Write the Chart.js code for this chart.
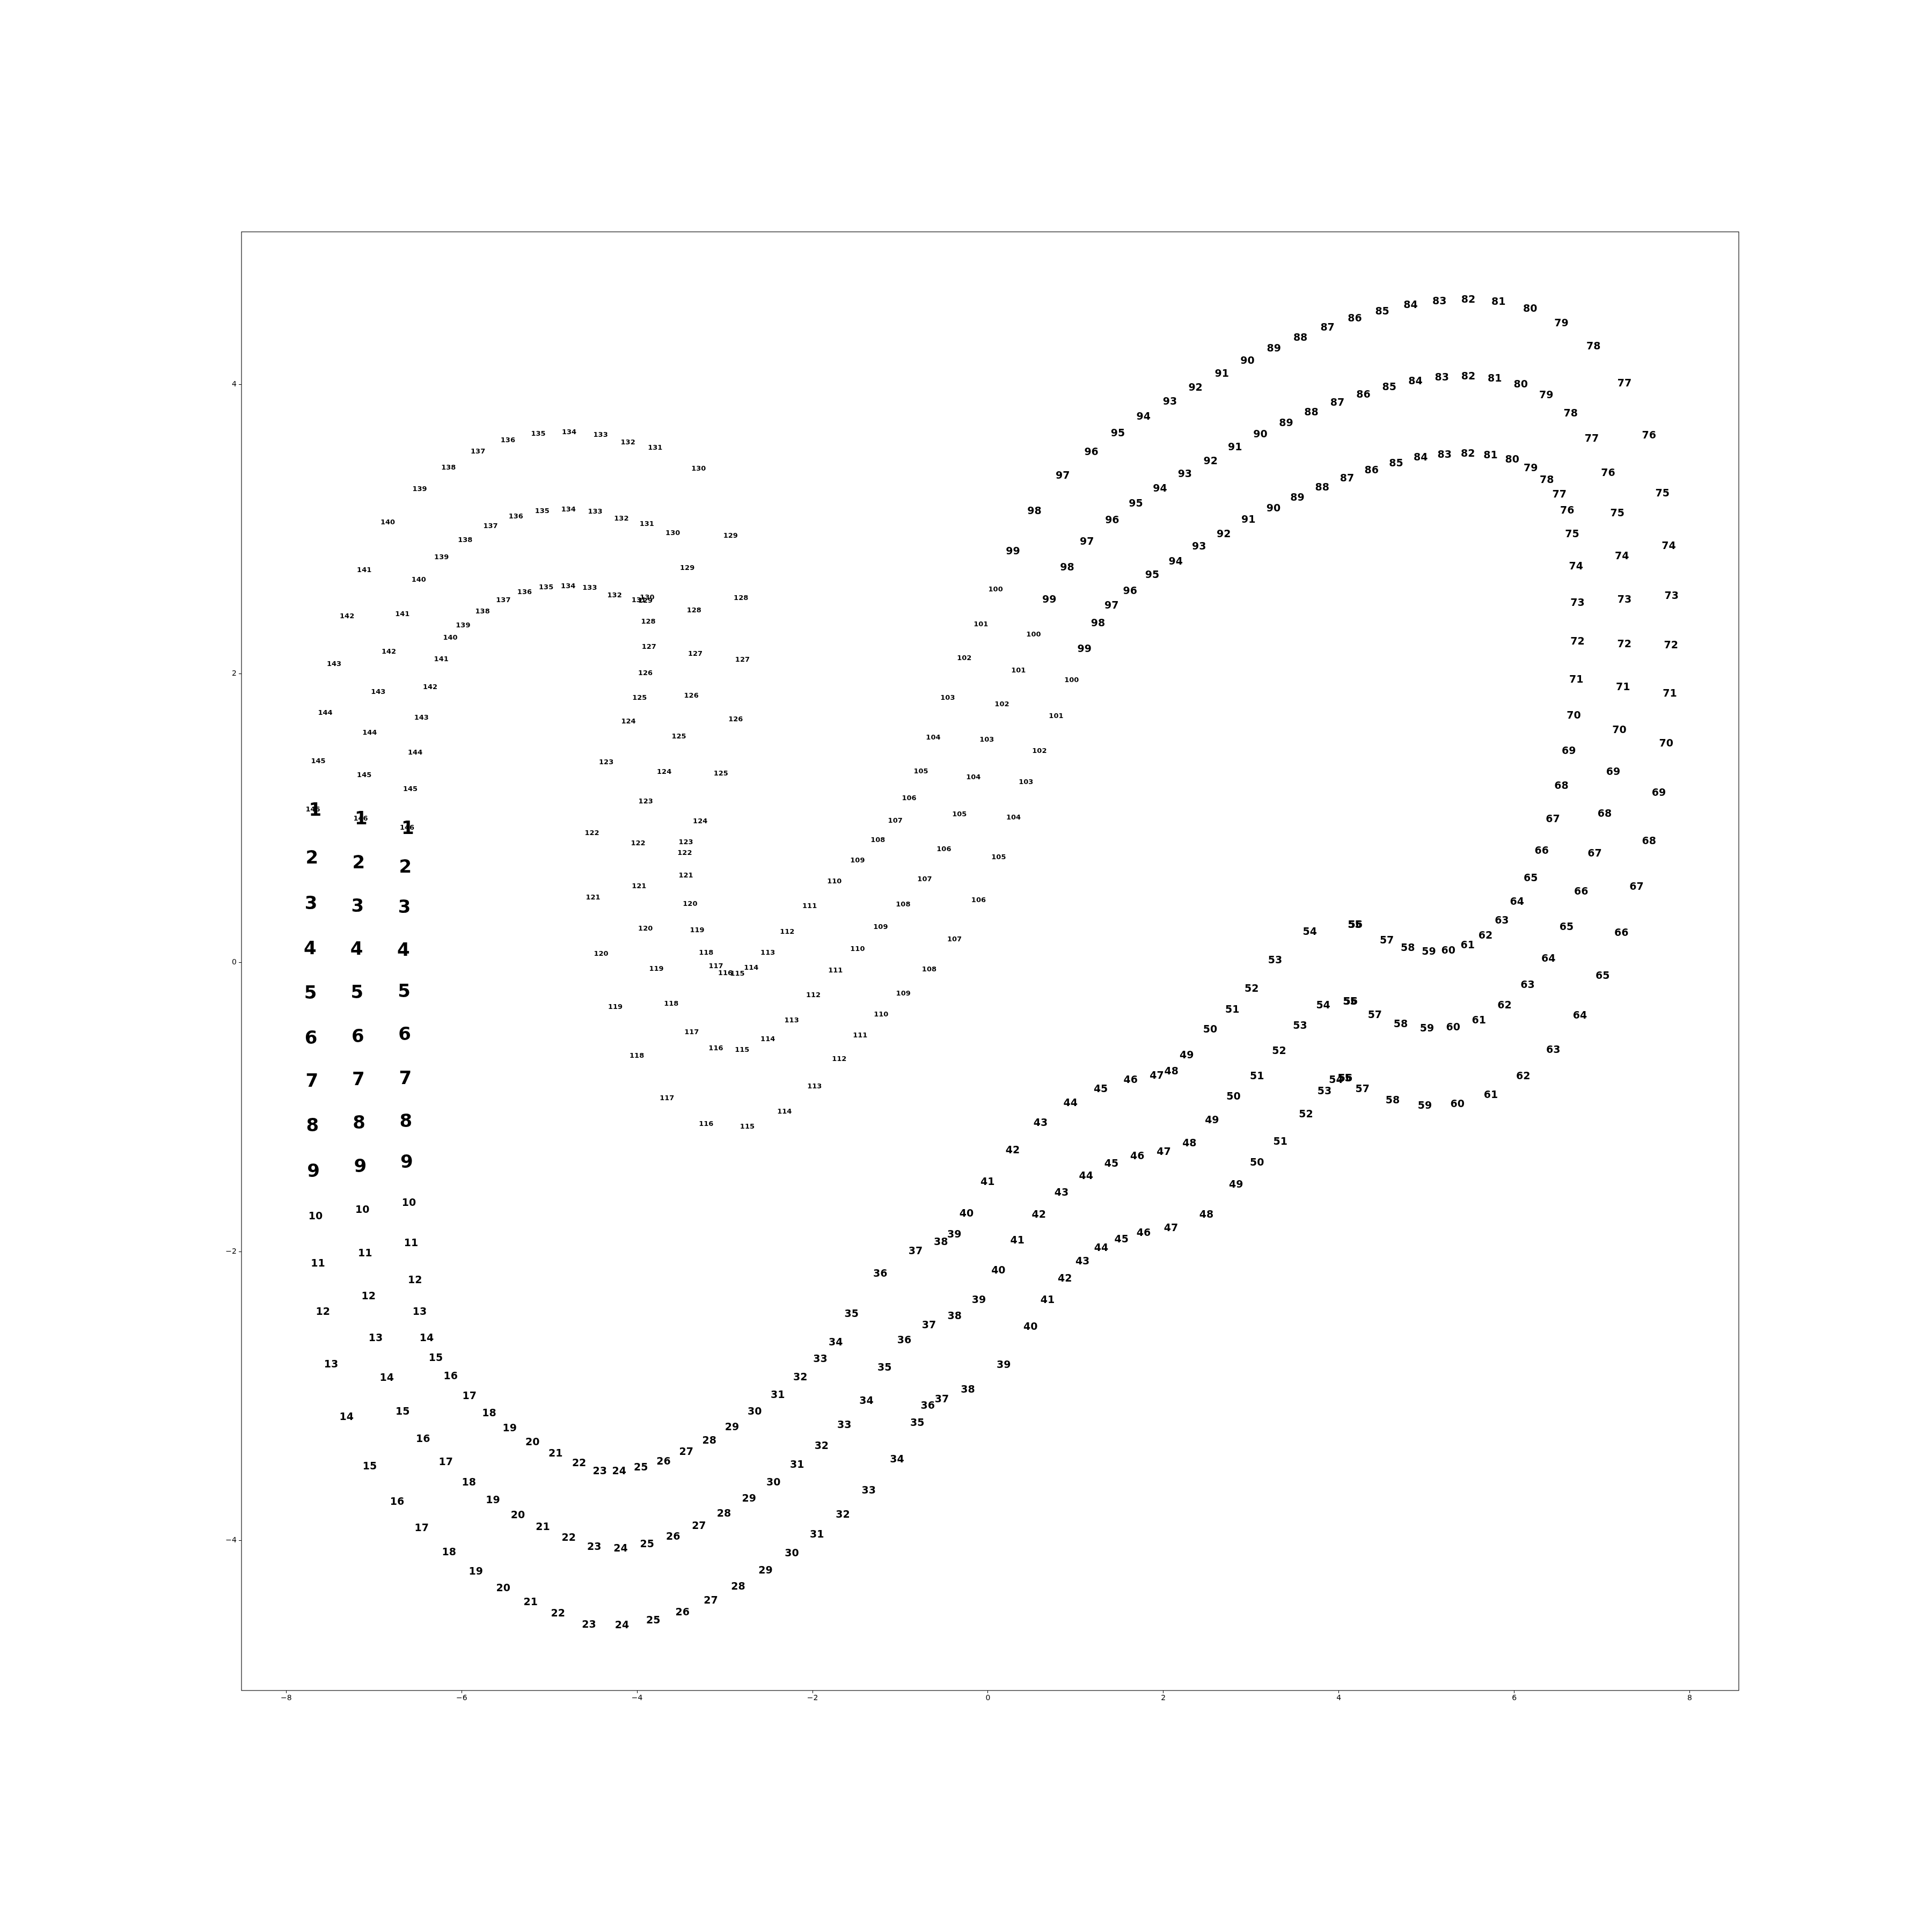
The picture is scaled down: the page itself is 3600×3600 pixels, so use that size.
<!DOCTYPE html>
<html><head><meta charset="utf-8">
<script src="https://cdn.jsdelivr.net/npm/chart.js@4.4.1/dist/chart.umd.min.js"></script>
<style>html,body{margin:0;padding:0;background:#fff}canvas{display:block}</style>
</head><body>
<canvas id="c" width="3600" height="3600"></canvas>
<script>
// point labels (the index of each point along a spiral)
const pointLabels = Array.from({length:146},(_,i)=>String(i+1));

const spiralAX = [-7.670,-7.707,-7.717,-7.728,-7.724,-7.717,-7.707,-7.701,-7.690,-7.666,
-7.638,-7.581,-7.488,-7.312,-7.048,-6.736,-6.456,-6.144,-5.838,-5.526,
-5.214,-4.902,-4.548,-4.172,-3.816,-3.483,-3.160,-2.848,-2.536,-2.236,
-1.950,-1.655,-1.359,-1.036,-0.805,-0.687,-0.526,-0.229,0.180,0.485,
0.680,0.877,1.078,1.291,1.522,1.775,2.087,2.490,2.828,3.067,
3.334,3.625,3.837,3.968,4.066,4.075,4.270,4.614,4.981,5.352,
5.733,6.102,6.444,6.749,7.007,7.221,7.395,7.536,7.648,7.732,
7.774,7.788,7.794,7.762,7.690,7.537,7.257,6.903,6.538,6.181,
5.820,5.476,5.148,4.818,4.495,4.182,3.871,3.562,3.260,2.959,
2.667,2.366,2.074,1.773,1.481,1.179,0.853,0.530,0.285,0.087,
-0.080,-0.270,-0.459,-0.624,-0.764,-0.899,-1.057,-1.255,-1.487,-1.751,
-2.033,-2.289,-2.510,-2.699,-2.857,-2.994,-3.101,-3.213,-3.315,-3.396,
-3.444,-3.457,-3.444,-3.281,-3.045,-2.876,-2.799,-2.816,-2.935,-3.299,
-3.794,-4.104,-4.416,-4.775,-5.126,-5.473,-5.814,-6.150,-6.479,-6.843,
-7.111,-7.307,-7.454,-7.555,-7.635,-7.696];
const spiralAY = [1.063,0.732,0.414,0.104,-0.206,-0.517,-0.815,-1.121,-1.439,-1.752,
-2.077,-2.414,-2.775,-3.142,-3.481,-3.726,-3.910,-4.075,-4.209,-4.324,
-4.423,-4.501,-4.576,-4.583,-4.549,-4.494,-4.410,-4.313,-4.201,-4.084,
-3.952,-3.817,-3.651,-3.434,-3.182,-3.064,-3.016,-2.951,-2.779,-2.516,
-2.329,-2.182,-2.063,-1.972,-1.910,-1.867,-1.833,-1.740,-1.534,-1.381,
-1.236,-1.045,-0.885,-0.809,-0.798,-0.796,-0.872,-0.949,-0.987,-0.976,
-0.912,-0.782,-0.600,-0.362,-0.086,0.208,0.530,0.845,1.178,1.519,
1.868,2.201,2.541,2.887,3.252,3.652,4.014,4.269,4.430,4.529,
4.578,4.591,4.582,4.557,4.512,4.461,4.399,4.329,4.254,4.170,
4.079,3.984,3.887,3.784,3.666,3.539,3.373,3.128,2.849,2.586,
2.343,2.109,1.835,1.560,1.327,1.143,0.987,0.850,0.709,0.565,
0.393,0.215,0.070,-0.031,-0.074,-0.070,-0.023,0.072,0.227,0.408,
0.605,0.761,0.836,0.982,1.314,1.689,2.101,2.526,2.959,3.420,
3.565,3.605,3.656,3.674,3.665,3.618,3.540,3.429,3.279,3.049,
2.718,2.402,2.068,1.732,1.397,1.063];

const spiralBX = [-7.146,-7.174,-7.187,-7.197,-7.193,-7.183,-7.177,-7.170,-7.156,-7.132,
-7.101,-7.061,-6.981,-6.853,-6.673,-6.440,-6.181,-5.917,-5.644,-5.359,
-5.075,-4.779,-4.489,-4.187,-3.886,-3.590,-3.295,-3.010,-2.724,-2.445,
-2.176,-1.897,-1.638,-1.385,-1.179,-0.954,-0.672,-0.381,-0.103,0.119,
0.336,0.580,0.839,1.118,1.407,1.703,2.004,2.297,2.554,2.800,
3.067,3.320,3.558,3.822,4.127,4.135,4.411,4.706,5.005,5.304,
5.597,5.889,6.152,6.389,6.596,6.763,6.917,7.030,7.128,7.198,
7.240,7.255,7.257,7.228,7.176,7.070,6.884,6.643,6.365,6.074,
5.778,5.476,5.175,4.873,4.576,4.280,3.983,3.687,3.399,3.105,
2.817,2.538,2.245,1.962,1.686,1.416,1.128,0.903,0.700,0.520,
0.348,0.159,-0.013,-0.166,-0.325,-0.502,-0.722,-0.967,-1.224,-1.487,
-1.738,-1.991,-2.238,-2.510,-2.803,-3.102,-3.378,-3.611,-3.780,-3.905,
-3.978,-3.988,-3.902,-3.691,-3.523,-3.382,-3.337,-3.351,-3.428,-3.593,
-3.889,-4.179,-4.478,-4.782,-5.082,-5.382,-5.671,-5.960,-6.230,-6.489,
-6.676,-6.830,-6.951,-7.049,-7.111,-7.152];
const spiralBY = [1.002,0.698,0.398,0.100,-0.201,-0.506,-0.804,-1.105,-1.404,-1.705,
-2.008,-2.305,-2.595,-2.869,-3.105,-3.292,-3.453,-3.593,-3.715,-3.819,
-3.903,-3.977,-4.041,-4.050,-4.022,-3.968,-3.896,-3.808,-3.705,-3.593,
-3.472,-3.341,-3.196,-3.028,-2.800,-2.609,-2.504,-2.442,-2.329,-2.126,
-1.920,-1.740,-1.587,-1.471,-1.389,-1.335,-1.304,-1.245,-1.086,-0.922,
-0.782,-0.609,-0.433,-0.293,-0.266,-0.264,-0.357,-0.423,-0.452,-0.443,
-0.396,-0.293,-0.151,0.032,0.252,0.495,0.760,1.033,1.323,1.613,
1.911,2.209,2.518,2.816,3.113,3.392,3.632,3.806,3.930,4.004,
4.046,4.060,4.054,4.027,3.986,3.936,3.879,3.811,3.738,3.660,
3.570,3.474,3.384,3.285,3.180,3.066,2.917,2.738,2.516,2.273,
2.024,1.791,1.546,1.285,1.029,0.788,0.579,0.405,0.249,0.099,
-0.050,-0.221,-0.395,-0.527,-0.599,-0.591,-0.478,-0.282,-0.038,0.237,
0.532,0.831,1.118,1.323,1.570,1.851,2.142,2.443,2.734,2.975,
3.038,3.076,3.126,3.141,3.130,3.093,3.026,2.928,2.808,2.652,
2.414,2.157,1.877,1.595,1.301,1.002];

const spiralCX = [-6.615,-6.642,-6.652,-6.663,-6.656,-6.650,-6.642,-6.636,-6.626,-6.601,
-6.577,-6.532,-6.479,-6.399,-6.295,-6.126,-5.911,-5.686,-5.453,-5.193,
-4.929,-4.661,-4.425,-4.204,-3.957,-3.698,-3.440,-3.176,-2.918,-2.660,
-2.397,-2.139,-1.912,-1.735,-1.555,-1.228,-0.825,-0.537,-0.384,-0.244,
-0.004,0.282,0.600,0.941,1.286,1.627,1.924,2.092,2.266,2.533,
2.786,3.006,3.274,3.670,4.182,4.190,4.547,4.786,5.026,5.249,
5.469,5.672,5.858,6.032,6.187,6.313,6.440,6.538,6.622,6.678,
6.707,6.721,6.722,6.704,6.660,6.604,6.515,6.371,6.188,5.976,
5.730,5.472,5.205,4.933,4.654,4.374,4.094,3.811,3.527,3.256,
2.969,2.688,2.407,2.140,1.873,1.620,1.409,1.255,1.100,0.954,
0.777,0.587,0.434,0.291,0.122,-0.107,-0.382,-0.670,-0.965,-1.218,
-1.457,-1.696,-1.977,-2.320,-2.744,-3.213,-3.660,-4.003,-4.248,-4.411,
-4.502,-4.515,-4.352,-4.099,-3.972,-3.906,-3.865,-3.872,-3.906,-3.885,
-3.981,-4.257,-4.540,-4.786,-5.037,-5.283,-5.525,-5.762,-5.984,-6.130,
-6.233,-6.359,-6.459,-6.530,-6.586,-6.622];
const spiralCY = [0.937,0.667,0.388,0.093,-0.192,-0.490,-0.794,-1.091,-1.374,-1.657,
-1.937,-2.195,-2.414,-2.595,-2.731,-2.857,-2.994,-3.113,-3.219,-3.314,
-3.393,-3.458,-3.515,-3.515,-3.491,-3.448,-3.382,-3.304,-3.210,-3.103,
-2.988,-2.865,-2.740,-2.625,-2.429,-2.149,-1.991,-1.928,-1.877,-1.731,
-1.514,-1.294,-1.106,-0.966,-0.871,-0.808,-0.779,-0.749,-0.636,-0.460,
-0.323,-0.176,0.019,0.217,0.264,0.266,0.159,0.107,0.081,0.087,
0.124,0.190,0.295,0.427,0.589,0.777,0.999,1.229,1.468,1.715,
1.962,2.227,2.493,2.745,2.968,3.133,3.245,3.346,3.426,3.486,
3.515,3.526,3.518,3.499,3.460,3.410,3.356,3.291,3.221,3.146,
3.071,2.968,2.883,2.781,2.687,2.576,2.474,2.354,2.175,1.960,
1.708,1.469,1.252,1.009,0.731,0.435,0.165,-0.042,-0.212,-0.357,
-0.502,-0.664,-0.852,-1.026,-1.132,-1.114,-0.936,-0.642,-0.302,0.065,
0.453,0.901,1.391,1.672,1.834,2.008,2.188,2.365,2.507,2.532,
2.510,2.547,2.597,2.610,2.600,2.569,2.513,2.433,2.337,2.251,
2.105,1.909,1.698,1.456,1.205,0.937];

const xTicks = [-8,-6,-4,-2,0,2,4,6,8];
const yTicks = [-4,-2,0,2,4];

const toPts = (xs, ys) => xs.map((x,i)=>({x:x, y:ys[i]}));

const fmt = v => v < 0 ? '\u2212' + Math.abs(v) : String(v);

const textPlugin = {
  id: 'pointText',
  afterDatasetsDraw(chart){
    const ctx = chart.ctx;
    ctx.save();
    ctx.fillStyle = '#000';
    ctx.textAlign = 'center';
    ctx.textBaseline = 'alphabetic';
    chart.data.datasets.forEach((ds, di) => {
      const meta = chart.getDatasetMeta(di);
      meta.data.forEach((pt, i) => {
        const s = pointLabels[i];
        const size = s.length === 1 ? 34 : (s.length === 2 ? 19 : 13);
        ctx.font = 'bold ' + size + 'px "DejaVu Sans"';
        ctx.fillText(s, pt.x, pt.y + 0.364 * size);
      });
    });
    ctx.restore();
  }
};

const framePlugin = {
  id: 'frame',
  afterDraw(chart){
    const a = chart.chartArea, ctx = chart.ctx;
    ctx.save();
    ctx.strokeStyle = '#000';
    ctx.lineWidth = 1.1;
    ctx.strokeRect(a.left, a.top, a.right - a.left, a.bottom - a.top);
    ctx.restore();
  }
};

new Chart(document.getElementById('c'), {
  type: 'scatter',
  data: {
    datasets: [
      {label:'A', data: toPts(spiralAX, spiralAY)},
      {label:'B', data: toPts(spiralBX, spiralBY)},
      {label:'C', data: toPts(spiralCX, spiralCY)}
    ].map(d => Object.assign(d, {pointRadius:0, pointHoverRadius:0, showLine:false}))
  },
  options: {
    responsive: false,
    devicePixelRatio: 1,
    animation: false,
    events: [],
    layout: {padding: {left:0, top:432, right:360, bottom:0}},
    plugins: {legend:{display:false}, tooltip:{enabled:false}},
    scales: {
      x: {
        type:'linear', position:'bottom', min:-8.51, max:8.56,
        afterBuildTicks: ax => { ax.ticks = xTicks.map(v => ({value:v})); },
        afterFit: s => { s.height = 450; },
        grid: {display:true, drawOnChartArea:false, drawTicks:true, tickLength:5, tickWidth:1, tickColor:'#000'},
        border: {display:false},
        ticks: {callback: v => fmt(v), color:'#000', font:{family:'DejaVu Sans', size:14}, padding:1, maxRotation:0, autoSkip:false}
      },
      y: {
        type:'linear', position:'left', min:-5.038, max:5.057,
        afterBuildTicks: ax => { ax.ticks = yTicks.map(v => ({value:v})); },
        afterFit: s => { s.width = 450; },
        grid: {display:true, drawOnChartArea:false, drawTicks:true, tickLength:5, tickWidth:1, tickColor:'#000'},
        border: {display:false},
        ticks: {callback: v => fmt(v), color:'#000', font:{family:'DejaVu Sans', size:14}, padding:4, autoSkip:false}
      }
    }
  },
  plugins: [textPlugin, framePlugin]
});
</script>
</body></html>
